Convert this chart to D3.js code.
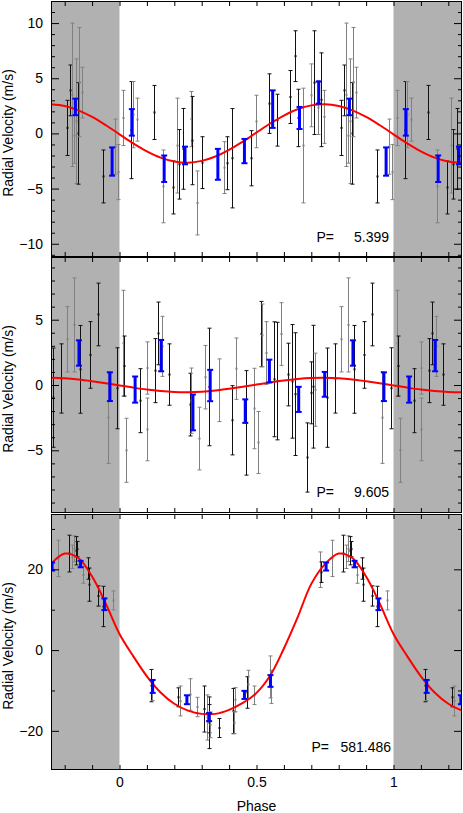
<!DOCTYPE html>
<html>
<head>
<meta charset="utf-8">
<script src="https://cdn.jsdelivr.net/npm/d3@7"></script>
<style>
  body { margin: 0; background: #fff; }
  svg text { font-family: "Liberation Sans", Arial, Helvetica, sans-serif; }
</style>
</head>
<body>
<div id="chart"></div>
<script>
// periods shown in each panel
const periods = [5.399, 9.605, 581.486];

// phase grid of the model curves
const modelPhase = [-0.25, -0.2, -0.15, -0.1, -0.05, 0, 0.05, 0.1, 0.15, 0.2, 0.25, 0.3, 0.35, 0.4, 0.45,
  0.5, 0.55, 0.6, 0.65, 0.7, 0.75, 0.8, 0.85, 0.9, 0.95, 1, 1.05, 1.1, 1.15, 1.2, 1.25];

// ---- panel 1 (P = 5.399) ----
const p1Model = [2.65, 2.49, 2.09, 1.49, 0.74, -0.08, -0.9, -1.62, -2.19, -2.54, -2.65, -2.49, -2.09, -1.49, -0.74,
  0.08, 0.9, 1.62, 2.19, 2.54, 2.65, 2.49, 2.09, 1.49, 0.74, -0.08, -0.9, -1.62, -2.19, -2.54, -2.65];
const p1Phase = [0.014, 0.041, 0.05, 0.065, 0.127, 0.16, 0.197, 0.209, 0.218, 0.23, 0.26, 0.264, 0.282, 0.301,
  0.383, 0.392, 0.411, 0.48, 0.499, 0.545, 0.575, 0.621, 0.642, 0.651, 0.67, 0.7, 0.709, 0.724, 0.734, 0.748,
  0.807, 0.819, 0.826, 0.834, 0.841, 0.847, 0.853, 0.862, 0.938, 0.984, 0.993];
const p1Vel = [1.4, 0.3, 1.7, 1.25, 1.9, -4.8, -4.9, -1.1, -2.8, -1.4, 1.3, -0.65, -6.3, -2.65,
  -3.1, -2.7, -2.25, -2.25, 1.08, 2.7, 1.2, 3.3, 7.0, 1.4, -1.1, 3.45, 4.6, 2.35, 3.05, 1.5,
  0.5, 3.9, 3.5, -0.2, 1.1, 0.0, 4.65, 3.7, -3.9, -1.2, -3.5];
const p1Err = [2.5, 4.4, 3.0, 1.95, 2.45, 3.3, 2.4, 4.3, 3.15, 3.66, 2.5, 4.0, 2.9, 2.35,
  2.35, 2.4, 4.5, 2.5, 2.38, 2.7, 2.35, 2.4, 2.3, 2.6, 5.2, 2.85, 4.7, 2.45, 4.25, 2.4,
  2.5, 2.3, 6.5, 2.5, 5.65, 4.6, 4.95, 2.3, 2.4, 2.5, 2.5];
const p1Gray = [1, 0, 1, 1, 0, 1, 0, 1, 0, 0, 1, 0, 1, 0,
  1, 0, 0, 0, 1, 0, 0, 0, 0, 0, 1, 1, 0, 1, 0, 1,
  0, 0, 1, 1, 1, 0, 1, 1, 0, 1, 1];
const p1BinPhase = [0.045, 0.163, 0.239, 0.359, 0.456, 0.559, 0.657, 0.727, 0.839, 0.973];
const p1BinVel = [1.0, -3.2, -2.0, -2.8, -1.6, 2.2, 1.4, 3.7, 2.4, -2.55];
const p1BinErr = [1.2, 1.2, 0.8, 1.4, 1.1, 1.7, 1.0, 1.0, 0.75, 1.28];

// ---- panel 2 (P = 9.605) ----
const p2Model = [0.55, 0.51, 0.42, 0.29, 0.14, -0.03, -0.2, -0.35, -0.46, -0.53, -0.55, -0.51, -0.42, -0.29, -0.14,
  0.03, 0.2, 0.35, 0.46, 0.53, 0.55, 0.51, 0.42, 0.29, 0.14, -0.03, -0.2, -0.35, -0.46, -0.53, -0.55];
const p2Phase = [0.014, 0.018, 0.023, 0.075, 0.1, 0.102, 0.13, 0.142, 0.154, 0.179, 0.256, 0.262, 0.291, 0.313,
  0.325, 0.362, 0.41, 0.425, 0.462, 0.49, 0.506, 0.517, 0.521, 0.536, 0.563, 0.573, 0.591, 0.615, 0.63, 0.642,
  0.685, 0.7, 0.707, 0.715, 0.756, 0.785, 0.807, 0.834, 0.856, 0.892, 0.923, 0.959, 0.992];
const p2Vel = [3.2, 1.45, -5.0, -1.2, -3.4, 1.3, 1.1, 3.95, 2.96, 0.8, -1.5, -1.2, -4.1, 0.6,
  -0.15, -0.4, -2.7, 1.25, -2.9, -1.8, -4.4, 3.9, 3.8, 2.45, 0.44, 0.3, 3.9, 0.8, 0.28, -0.7,
  -5.55, -0.6, -0.13, -0.36, -0.97, 0.5, 3.5, 4.6, 1.2, 2.3, 5.4, -2.5, -0.25];
const p2Err = [4.05, 2.3, 2.45, 2.45, 2.4, 2.0, 2.45, 2.4, 2.3, 2.35, 2.4, 2.5, 2.4, 2.43,
  4.5, 2.4, 2.65, 2.35, 4.0, 3.08, 2.37, 2.5, 2.4, 2.4, 4.4, 4.5, 2.4, 2.4, 4.35, 4.7,
  2.65, 2.37, 4.7, 2.8, 3.8, 2.65, 2.5, 3.6, 3.36, 2.55, 2.4, 3.5, 3.1];
const p2Gray = [1, 0, 1, 0, 1, 1, 0, 0, 1, 0, 0, 1, 1, 1,
  0, 1, 0, 1, 0, 1, 1, 0, 1, 1, 0, 0, 1, 0, 0, 0,
  0, 0, 0, 1, 0, 0, 1, 1, 0, 0, 0, 1, 0];
const p2BinPhase = [0.057, 0.152, 0.268, 0.331, 0.459, 0.547, 0.654, 0.749, 0.852, 0.965];
const p2BinVel = [-0.35, 2.25, -2.1, -0.04, -2.0, 1.07, -1.1, 0.05, 2.45, -0.13];
const p2BinErr = [1.0, 1.2, 1.37, 1.2, 0.9, 0.87, 0.96, 0.95, 0.97, 1.1];

// ---- panel 3 (P = 581.486) ----
const p3Model = [21.3, 23.9, 22.8, 18.2, 11.5, 4.0, -1.5, -6.5, -10.5, -13.3, -15.0, -15.8, -15.8, -14.8, -13.1,
  -10.6, -6.3, 0.4, 8.1, 16.4, 21.3, 23.9, 22.8, 18.2, 11.5, 4.0, -1.5, -6.5, -10.5, -13.3, -15.0];
const p3Phase = [0.114, 0.118, 0.213, 0.221, 0.258, 0.282, 0.309, 0.319, 0.325, 0.328, 0.332, 0.362,
  0.416, 0.419, 0.423, 0.465, 0.469, 0.49, 0.548, 0.553, 0.73, 0.737, 0.776, 0.817, 0.825, 0.834,
  0.841, 0.846, 0.868, 0.884, 0.889, 0.923, 0.941, 0.975];
const p3Vel = [-8.8, -10.0, -11.7, -12.6, -11.0, -14.1, -14.6, -16.7, -18.0, -17.0, -18.5, -19.3,
  -15.1, -18.0, -12.3, -10.5, -8.5, -11.2, -6.65, -9.1, 19.9, 19.3, 22.7, 23.9, 23.1, 25.1,
  24.6, 25.0, 18.6, 20.2, 16.2, 13.4, 10.8, 12.3];
const p3Err = [4.0, 2.5, 2.35, 3.7, 3.9, 2.4, 5.7, 5.6, 6.4, 3.5, 3.2, 2.35,
  5.6, 2.7, 3.0, 3.9, 3.5, 2.3, 5.2, 4.1, 4.4, 2.55, 4.5, 4.55, 2.9, 3.2,
  3.5, 1.9, 2.05, 2.65, 4.1, 2.5, 5.0, 2.35];
const p3Gray = [0, 1, 0, 1, 1, 1, 0, 1, 0, 0, 1, 0,
  0, 1, 1, 0, 1, 1, 1, 1, 1, 0, 1, 0, 1, 1,
  0, 0, 1, 0, 0, 0, 0, 1];
const p3BinPhase = [0.121, 0.246, 0.327, 0.456, 0.551, 0.754, 0.858, 0.945];
const p3BinVel = [-9.0, -12.3, -16.6, -11.1, -7.65, 20.7, 21.3, 11.35];
const p3BinErr = [1.6, 1.1, 1.0, 1.0, 1.45, 1.0, 0.8, 1.45];

// axis ticks
const xMinorTicks = [-0.2, -0.1, 0, 0.1, 0.2, 0.3, 0.4, 0.5, 0.6, 0.7, 0.8, 0.9, 1, 1.1, 1.2];
const xTickLabels = [0, 0.5, 1];
const p1YMinor = [-11, -9, -8, -7, -6, -4, -3, -2, -1, 1, 2, 3, 4, 6, 7, 8, 9, 11];
const p1YLabels = [-10, -5, 0, 5, 10];
const p2YMinor = [-9, -8, -7, -6, -4, -3, -2, -1, 1, 2, 3, 4, 6, 7, 8, 9];
const p2YLabels = [-5, 0, 5];
const p3YMinor = [-10, 10, 30];
const p3YLabels = [-20, 0, 20];

// ---- layout ----
const W = 463, H = 813;
const L = 51, R = 462;
const panels = [
  { top: 1, bottom: 257, dom: [-11.2, 12], model: p1Model, phase: p1Phase, vel: p1Vel, err: p1Err, gray: p1Gray,
    bPhase: p1BinPhase, bVel: p1BinVel, bErr: p1BinErr, minor: p1YMinor, major: p1YLabels,
    pX: 316.5, nX: 389, tY: 241.5 },
  { top: 257, bottom: 513, dom: [-9.8, 9.8], model: p2Model, phase: p2Phase, vel: p2Vel, err: p2Err, gray: p2Gray,
    bPhase: p2BinPhase, bVel: p2BinVel, bErr: p2BinErr, minor: p2YMinor, major: p2YLabels,
    pX: 316.5, nX: 389, tY: 497 },
  { top: 514, bottom: 770, dom: [-29.7, 33.7], model: p3Model, phase: p3Phase, vel: p3Vel, err: p3Err, gray: p3Gray,
    bPhase: p3BinPhase, bVel: p3BinVel, bErr: p3BinErr, minor: p3YMinor, major: p3YLabels,
    pX: 311.5, nX: 391, tY: 752 }
];

const svg = d3.select("#chart").append("svg")
  .attr("width", W)
  .attr("height", H);

const x = d3.scaleLinear().domain([-0.25, 1.25]).range([L, R]);

// phase-folded copies that fall inside the plotted window
function copies(ph) {
  return [ph - 1, ph, ph + 1].filter(p => p >= -0.25 && p <= 1.25);
}

panels.forEach((P, i) => {
  const y = d3.scaleLinear().domain(P.dom).range([P.bottom, P.top]);
  const g = svg.append("g");

  g.append("clipPath").attr("id", "clip" + i)
    .append("rect")
    .attr("x", L).attr("y", P.top)
    .attr("width", R - L).attr("height", P.bottom - P.top);

  // shaded repeat zones
  [[-0.25, 0], [1, 1.25]].forEach(z => {
    g.append("rect")
      .attr("x", x(z[0])).attr("y", P.top)
      .attr("width", x(z[1]) - x(z[0])).attr("height", P.bottom - P.top)
      .attr("fill", "#b1b1b1");
  });

  const plot = g.append("g").attr("clip-path", `url(#clip${i})`);

  // individual measurements
  const pts = [];
  P.phase.forEach((ph, j) => {
    copies(ph).forEach(p => pts.push({ p: p, v: P.vel[j], e: P.err[j], c: P.gray[j] ? "#808080" : "#111" }));
  });
  const bars = plot.selectAll(".eb").data(pts).enter().append("g").attr("class", "eb")
    .attr("stroke", d => d.c).attr("stroke-width", 1);
  bars.append("line")
    .attr("x1", d => Math.round(x(d.p)) + 0.5).attr("x2", d => Math.round(x(d.p)) + 0.5)
    .attr("y1", d => y(d.v + d.e)).attr("y2", d => y(d.v - d.e));
  bars.append("line")
    .attr("x1", d => Math.round(x(d.p)) - 1.5).attr("x2", d => Math.round(x(d.p)) + 2.5)
    .attr("y1", d => y(d.v + d.e)).attr("y2", d => y(d.v + d.e));
  bars.append("line")
    .attr("x1", d => Math.round(x(d.p)) - 1.5).attr("x2", d => Math.round(x(d.p)) + 2.5)
    .attr("y1", d => y(d.v - d.e)).attr("y2", d => y(d.v - d.e));
  bars.append("rect")
    .attr("x", d => Math.round(x(d.p)) - 0.5).attr("y", d => y(d.v) - 1)
    .attr("width", 2).attr("height", 2)
    .attr("fill", d => d.c).attr("stroke", "none");

  // model curve
  const line = d3.line()
    .x((d, k) => x(modelPhase[k]))
    .y(d => y(d))
    .curve(d3.curveCatmullRom.alpha(0.5));
  plot.append("path")
    .datum(P.model)
    .attr("d", line)
    .attr("fill", "none")
    .attr("stroke", "#ff0000")
    .attr("stroke-width", 2);

  // binned points
  const bins = [];
  P.bPhase.forEach((ph, j) => {
    copies(ph).forEach(p => bins.push({ p: p, v: P.bVel[j], e: P.bErr[j] }));
  });
  const bg = plot.selectAll(".bin").data(bins).enter().append("g").attr("class", "bin")
    .attr("stroke", "#0000ff").attr("fill", "#0000ff");
  bg.append("line")
    .attr("x1", d => x(d.p)).attr("x2", d => x(d.p))
    .attr("y1", d => y(d.v + d.e)).attr("y2", d => y(d.v - d.e))
    .attr("stroke-width", 3);
  bg.append("line")
    .attr("x1", d => x(d.p) - 3).attr("x2", d => x(d.p) + 3)
    .attr("y1", d => y(d.v + d.e)).attr("y2", d => y(d.v + d.e))
    .attr("stroke-width", 2);
  bg.append("line")
    .attr("x1", d => x(d.p) - 3).attr("x2", d => x(d.p) + 3)
    .attr("y1", d => y(d.v - d.e)).attr("y2", d => y(d.v - d.e))
    .attr("stroke-width", 2);

  // axes: ticks point inward on all four sides
  const font = a => a.attr("font-size", 14).attr("font-family", "'Liberation Sans', Arial, sans-serif")
    .call(s => s.select(".domain").remove());
  g.append("g").attr("transform", `translate(${L},0)`)
    .call(d3.axisLeft(y).tickValues(P.minor).tickSize(-4).tickFormat("")).call(font);
  g.append("g").attr("transform", `translate(${L},0)`)
    .call(d3.axisLeft(y).tickValues(P.major).tickSize(-8).tickPadding(8)).call(font);
  g.append("g").attr("transform", `translate(${R},0)`)
    .call(d3.axisRight(y).tickValues(P.minor).tickSize(-4).tickFormat("")).call(font);
  g.append("g").attr("transform", `translate(${R},0)`)
    .call(d3.axisRight(y).tickValues(P.major).tickSize(-8).tickFormat("")).call(font);
  g.append("g").attr("transform", `translate(0,${P.top})`)
    .call(d3.axisTop(x).tickValues(xMinorTicks).tickSize(-5).tickFormat("")).call(font);
  g.append("g").attr("transform", `translate(0,${P.bottom})`)
    .call(d3.axisBottom(x).tickValues(xMinorTicks).tickSize(-5).tickFormat("")).call(font);
  if (i === 2) {
    g.append("g").attr("transform", `translate(0,${P.bottom})`)
      .call(d3.axisBottom(x).tickValues(xTickLabels).tickSize(0).tickPadding(7)
        .tickFormat(d3.format("~g"))).call(font);
  }

  // frame
  g.append("rect")
    .attr("x", L + 0.5).attr("y", P.top + 0.5)
    .attr("width", R - L - 1).attr("height", P.bottom - P.top - 1)
    .attr("fill", "none").attr("stroke", "#000");

  // y title
  g.append("text")
    .attr("transform", `translate(13,${(P.top + P.bottom) / 2 + 4}) rotate(-90)`)
    .attr("text-anchor", "middle")
    .style("font-size", "14px")
    .text("Radial Velocity (m/s)");

  // period label
  g.append("text").attr("x", P.pX).attr("y", P.tY)
    .style("font-size", "14px").text("P=");
  g.append("text").attr("x", P.nX).attr("y", P.tY)
    .attr("text-anchor", "end")
    .style("font-size", "14px").text(d3.format(".3f")(periods[i]));
});

// x title
svg.append("text")
  .attr("x", x(0.5))
  .attr("y", 811)
  .attr("text-anchor", "middle")
  .style("font-size", "14px")
  .text("Phase");
</script>
</body>
</html>
